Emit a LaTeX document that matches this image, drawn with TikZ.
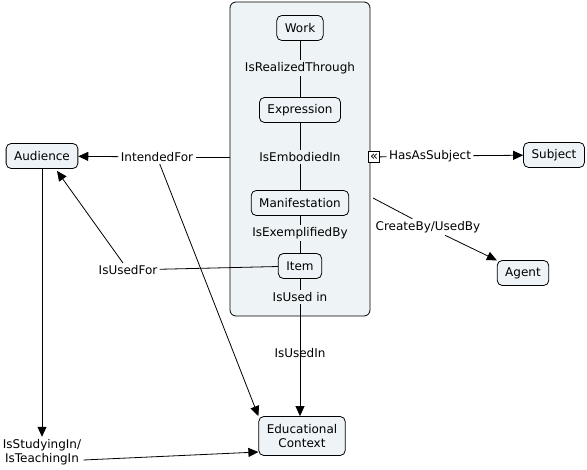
\documentclass[tikz,border=0pt]{standalone}
\usepackage{fontspec}
\setmainfont{DejaVu Sans}
\usetikzlibrary{arrows.meta}
\definecolor{conceptfill}{HTML}{EDF3F6}
\definecolor{groupfill}{HTML}{EEF4F6}

\begin{document}
\begin{tikzpicture}[x=1pt,y=-1pt,>={Triangle[length=10pt,width=9pt]},line width=0.8pt,
  concept/.style={draw,rounded corners=5pt,fill=conceptfill,inner xsep=8pt,minimum height=25pt,font=\fontsize{12}{14}\selectfont},
  linkword/.style={inner sep=2pt,font=\fontsize{12}{14}\selectfont}]
\useasboundingbox (0,0) rectangle (587,470);
% FRBR group
\node[draw,rounded corners=6pt,fill=groupfill,minimum width=140pt,minimum height=314pt] (frbr) at (300,159) {};
\node[concept] (work) at (300,28) {Work};
\node[linkword] (realized) at (300,68) {IsRealizedThrough};
\node[concept] (expression) at (300,110) {Expression};
\node[linkword] (embodied) at (300,157) {IsEmbodiedIn};
\node[concept] (manifestation) at (300,203) {Manifestation};
\node[linkword] (exemplified) at (300,233) {IsExemplifiedBy};
\node[concept] (item) at (300,266) {Item};
\node[linkword] (usedin) at (300,297) {IsUsed in};
\draw (work) -- (realized) -- (expression);
\draw (expression) -- (embodied) -- (manifestation);
\draw (manifestation) -- (exemplified) -- (item);
\draw (item) -- (usedin);
% outer concepts
\node[concept] (audience) at (42,156) {Audience};
\node[concept] (subject) at (554,155) {Subject};
\node[concept] (agent) at (523,273) {Agent};
\node[concept,align=center,minimum height=39pt] (educ) at (302,436) {Educational\\Context};
\node[draw,inner sep=0pt,minimum size=11pt,fill=white,font=\fontsize{13}{13}\selectfont] (collapse) at (374,157) {«};
% link words
\node[linkword] (intended) at (157,157) {IntendedFor};
\node[linkword] (usedfor) at (128,270) {IsUsedFor};
\node[linkword] (hassubject) at (430,156) {HasAsSubject};
\node[linkword] (createby) at (428,227) {CreateBy/UsedBy};
\node[linkword] (usedinedu) at (300,353) {IsUsedIn};
\node[linkword,align=center] (studying) at (42,452) {IsStudyingIn/\\IsTeachingIn};
\coordinate (cbstart) at (373,198);
% connectors
\draw (intended) -- (intended -| frbr.west);
\draw[->] (intended) -- (audience);
\draw[->] (intended) -- (educ.north west);
\draw (item) -- (usedfor);
\draw[->] (usedfor) -- ([xshift=15pt,yshift=-2pt]audience.south);
\draw (collapse) -- (hassubject);
\draw[->] (hassubject) -- (subject);
\draw (cbstart) -- (createby);
\draw[->] (createby) -- (agent);
\draw[->] (usedin) -- (educ.north -| usedin);
\draw[->] (audience) -- (studying);
\draw[->] ([yshift=-8pt]studying.east) -- ([yshift=-16pt]educ.west);
\end{tikzpicture}
\end{document}
